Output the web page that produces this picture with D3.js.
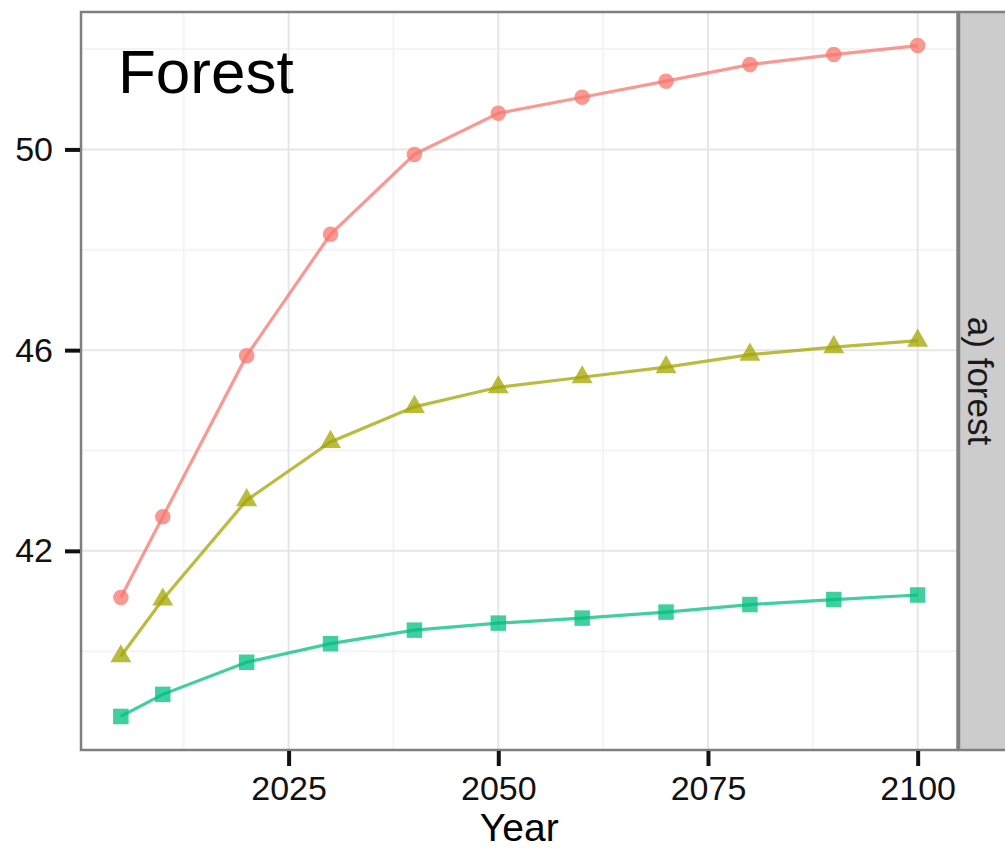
<!DOCTYPE html>
<html>
<head>
<meta charset="utf-8">
<script src="https://cdn.jsdelivr.net/npm/d3@7"></script>
<style>
  body { margin: 0; background: #fff; }
  svg text { font-family: "Liberation Sans", Arial, Helvetica, sans-serif; }
  .axis path { display: none; }
  .axis text { fill: #111; font-size: 34px; }
</style>
</head>
<body>
<div id="chart"></div>
<script>
// data
const years = [2005, 2010, 2020, 2030, 2040, 2050, 2060, 2070, 2080, 2090, 2100];
const seriesHigh = [41.07, 42.68, 45.89, 48.31, 49.90, 50.72, 51.04, 51.36, 51.69, 51.89, 52.07];
const seriesMid  = [39.90, 41.03, 43.01, 44.17, 44.87, 45.26, 45.46, 45.66, 45.91, 46.06, 46.19];
const seriesLow  = [38.70, 39.14, 39.78, 40.15, 40.42, 40.56, 40.66, 40.78, 40.93, 41.03, 41.12];
const xTicks = [2025, 2050, 2075, 2100];
const yTicks = [42, 46, 50];
const seriesColors = ["#F8766D", "#A3A500", "#00BF7D"];
const seriesShapes = [d3.symbolCircle, d3.symbolTriangle, d3.symbolSquare];
const panelTitle = "Forest";
const stripLabel = "a) forest";
const xLabel = "Year";

const width = 1005, height = 848;
const margin = { top: 12, right: 47.5, bottom: 98, left: 81 };
const innerW = width - margin.left - margin.right;
const innerH = height - margin.top - margin.bottom;
const tickLen = 15;

const svg = d3.select("#chart").append("svg")
    .attr("width", width)
    .attr("height", height);

const g = svg.append("g")
    .attr("transform", "translate(" + margin.left + "," + margin.top + ")");

// ggplot-like 5% expansion
const allVals = seriesHigh.concat(seriesMid, seriesLow);
const xExt = d3.extent(years), yExt = d3.extent(allVals);
const xPad = (xExt[1] - xExt[0]) * 0.05, yPad = (yExt[1] - yExt[0]) * 0.05;

const x = d3.scaleLinear()
    .domain([xExt[0] - xPad, xExt[1] + xPad])
    .range([0, innerW]);

const y = d3.scaleLinear()
    .domain([yExt[0] - yPad, yExt[1] + yPad])
    .range([innerH, 0]);

// grid: minor between majors
const xMinor = [2012.5, 2037.5, 2062.5, 2087.5];
const yMinor = [40, 44, 48, 52];

g.selectAll(".minor-x").data(xMinor).enter().append("line")
    .attr("x1", d => x(d)).attr("x2", d => x(d))
    .attr("y1", 0).attr("y2", innerH)
    .attr("stroke", "#F4F4F4").attr("stroke-width", 2);
g.selectAll(".minor-y").data(yMinor).enter().append("line")
    .attr("x1", 0).attr("x2", innerW)
    .attr("y1", d => y(d)).attr("y2", d => y(d))
    .attr("stroke", "#F4F4F4").attr("stroke-width", 2);
g.selectAll(".major-x").data(xTicks).enter().append("line")
    .attr("x1", d => x(d)).attr("x2", d => x(d))
    .attr("y1", 0).attr("y2", innerH)
    .attr("stroke", "#E6E6E6").attr("stroke-width", 2);
g.selectAll(".major-y").data(yTicks).enter().append("line")
    .attr("x1", 0).attr("x2", innerW)
    .attr("y1", d => y(d)).attr("y2", d => y(d))
    .attr("stroke", "#E6E6E6").attr("stroke-width", 2);

// series
const allSeries = [seriesHigh, seriesMid, seriesLow];
const symSizes = [190, 190, 240];
const line = d3.line()
    .x(d => x(d.year))
    .y(d => y(d.value));

allSeries.forEach(function (vals, i) {
    let pts = years.map((yr, j) => ({ year: yr, value: vals[j] }));
    g.append("path")
        .datum(pts)
        .attr("fill", "none")
        .attr("stroke", seriesColors[i])
        .attr("stroke-opacity", 0.75)
        .attr("stroke-width", 3.2)
        .attr("d", line);

    let sym = d3.symbol().type(seriesShapes[i]).size(symSizes[i]);
    g.selectAll(".pt" + i).data(pts).enter().append("path")
        .attr("transform", d => "translate(" + x(d.year) + "," + y(d.value) + ")")
        .attr("d", sym)
        .attr("fill", seriesColors[i])
        .attr("fill-opacity", 0.75);
});

// panel border
g.append("rect")
    .attr("width", innerW).attr("height", innerH)
    .attr("fill", "none")
    .attr("stroke", "#7F7F7F")
    .attr("stroke-width", 2.5);

// axes: labels and tick marks
const xAxis = d3.axisBottom(x).tickValues(xTicks).tickSize(tickLen).tickPadding(10)
    .tickFormat(d3.format("d"));
const yAxis = d3.axisLeft(y).tickValues(yTicks).tickSize(tickLen).tickPadding(12);

g.append("g")
    .attr("class", "axis x-axis")
    .attr("transform", "translate(0," + (innerH + 1) + ")")
    .call(xAxis);

g.append("g")
    .attr("class", "axis y-axis")
    .attr("transform", "translate(-1,0)")
    .call(yAxis);

g.selectAll(".axis .tick line")
    .style("stroke", "#111")
    .style("stroke-width", "4px");

// strip on the right
const strip = svg.append("g")
    .attr("transform", "translate(" + (margin.left + innerW) + "," + margin.top + ")");
strip.append("rect")
    .attr("x", 1.5).attr("width", 60).attr("height", innerH)
    .attr("fill", "#CCCCCC")
    .attr("stroke", "#7F7F7F")
    .attr("stroke-width", 2.5);
strip.append("text")
    .attr("transform", "translate(" + 23 + "," + (innerH / 2) + ") rotate(90)")
    .attr("text-anchor", "middle")
    .attr("dy", "0.35em")
    .attr("fill", "#1a1a1a")
    .style("font-size", "35px")
    .text(stripLabel);

// titles
g.append("text")
    .attr("x", 37).attr("y", 81)
    .attr("fill", "#000")
    .style("font-size", "62px")
    .text(panelTitle);

svg.append("text")
    .attr("x", margin.left + innerW / 2)
    .attr("y", 841)
    .attr("text-anchor", "middle")
    .attr("fill", "#000")
    .style("font-size", "39px")
    .text(xLabel);
</script>
</body>
</html>
